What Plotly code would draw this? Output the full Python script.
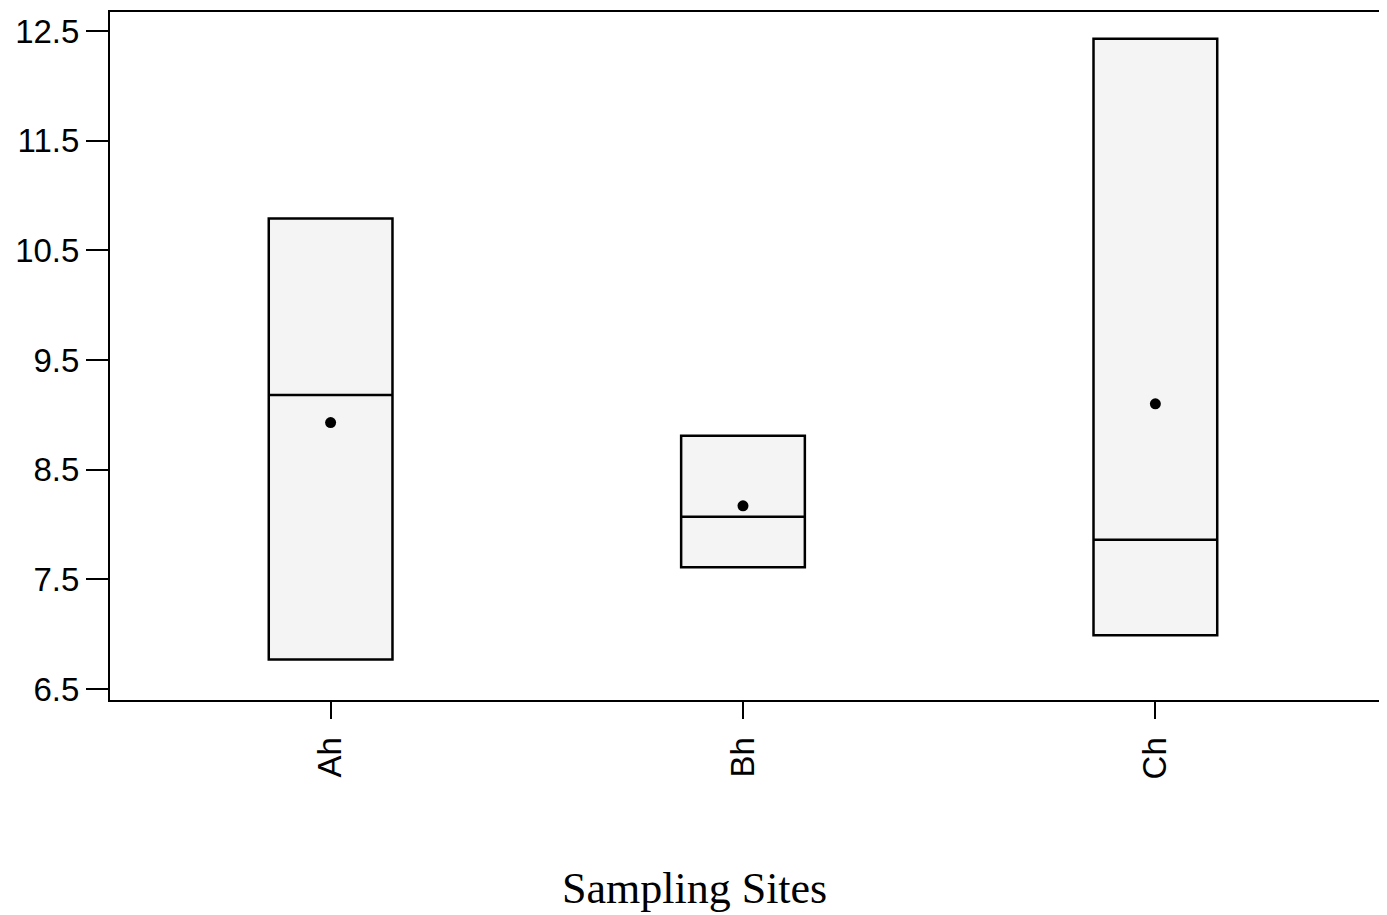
import plotly.graph_objects as go

sites = ["Ah", "Bh", "Ch"]
q1 = [6.77, 7.61, 6.99]
median = [9.18, 8.07, 7.86]
q3 = [10.79, 8.81, 12.43]
means = [8.93, 8.17, 9.10]
ytick_vals = [6.5, 7.5, 8.5, 9.5, 10.5, 11.5, 12.5]
ytick_text = ["6.5", "7.5", "8.5", "9.5", "10.5", "11.5", "12.5"]

fig = go.Figure()
fig.add_trace(go.Box(
    x=sites, q1=q1, median=median, q3=q3,
    lowerfence=q1, upperfence=q3,
    fillcolor="rgba(0,0,0,0.045)",
    line=dict(color="black", width=2.5),
    whiskerwidth=0, width=0.3,
    boxpoints=False, showlegend=False, hoverinfo="skip",
))
fig.add_trace(go.Scatter(
    x=sites, y=means, mode="markers",
    marker=dict(color="black", size=11),
    showlegend=False,
))

W, H = 1379, 907
L, T, R, B = 102, 4, 2, 215
fig.update_layout(
    width=W, height=H,
    margin=dict(l=L, r=R, t=T, b=B),
    plot_bgcolor="white", paper_bgcolor="white",
    font=dict(family="Liberation Sans", size=33, color="black"),
    xaxis=dict(
        type="category", range=[-0.535, 2.552],
        showline=True, linecolor="black", linewidth=2, mirror=True,
        ticks="outside", ticklen=17, tickwidth=2, tickcolor="black",
        tickangle=-90, showgrid=False, zeroline=False,
        ticklabelstandoff=5,
    ),
    yaxis=dict(
        range=[6.40, 12.673],
        tickvals=ytick_vals, ticktext=ytick_text,
        showline=True, linecolor="black", linewidth=2, mirror=True,
        ticks="outside", ticklen=22, tickwidth=2, tickcolor="black",
        showgrid=False, zeroline=False,
    ),
    annotations=[dict(
        text="Sampling Sites", xref="paper", yref="paper",
        x=(687 - L) / (W - L - R), y=-(880 - 692) / (H - T - B),
        xanchor="center", yanchor="middle", showarrow=False,
        font=dict(family="Liberation Serif", size=44, color="black"),
    )],
)

fig.write_html("out.html")
